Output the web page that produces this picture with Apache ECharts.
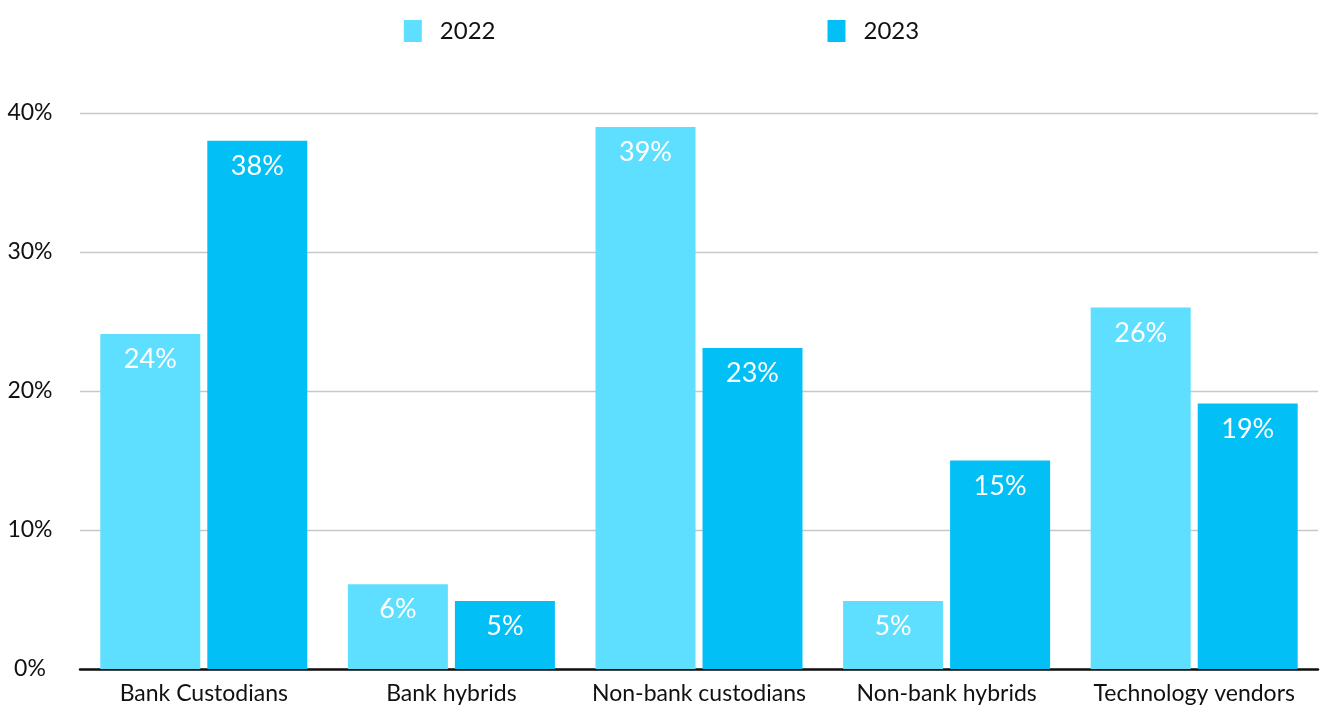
<!DOCTYPE html>
<html>
<head>
<meta charset="utf-8">
<script src="https://cdn.jsdelivr.net/npm/echarts@6/dist/echarts.min.js"></script>
<style>html,body{margin:0;padding:0;background:#fff}#c{width:1323px;height:707px}</style>
</head>
<body>
<div id="c"></div>
<script>
const categories = ['Bank Custodians', 'Bank hybrids', 'Non-bank custodians', 'Non-bank hybrids', 'Technology vendors'];
const series2022 = [24.1, 6.1, 39, 4.9, 26];
const series2023 = [38, 4.9, 23.1, 15, 19.1];
const seriesNames = ['2022', '2023'];
const yTicks = [0, 10, 20, 30, 40];

const font = 'Lato, "Open Sans", sans-serif';
const chart = echarts.init(document.getElementById('c'));
const label = {
  show: true, position: 'insideTop', distance: 12, color: '#fff',
  fontSize: 27, fontFamily: font,
  formatter: p => Math.round(p.value) + '%'
};
chart.setOption({
  animation: false,
  legend: {
    top: 14, left: 'center', itemWidth: 18, itemHeight: 22, itemGap: 332,
    icon: 'rect',
    textStyle: { fontSize: 24, fontFamily: font, color: '#111', padding: [0, 0, 0, 13] },
    data: seriesNames
  },
  grid: { left: 80, right: 5, top: 113, bottom: 38 },
  xAxis: {
    type: 'category', data: categories,
    axisLine: { lineStyle: { color: '#111', width: 2.5 } },
    axisTick: { show: false },
    axisLabel: { fontSize: 23, fontFamily: font, color: '#111', margin: 13, interval: 0, hideOverlap: false }
  },
  yAxis: {
    type: 'value', min: yTicks[0], max: yTicks[yTicks.length - 1], interval: 10,
    axisLine: { show: false }, axisTick: { show: false },
    axisLabel: { fontSize: 23, fontFamily: font, color: '#111', align: 'center', margin: 50, formatter: v => v + '%' },
    splitLine: { lineStyle: { color: '#c8c8c8', width: 1.3 } }
  },
  series: [
    { name: seriesNames[0], type: 'bar', data: series2022, barWidth: 100, barGap: '7%', itemStyle: { color: '#5EDFFF' }, label },
    { name: seriesNames[1], type: 'bar', data: series2023, barWidth: 100, barGap: '7%', itemStyle: { color: '#02C0F5' }, label }
  ]
});
</script>
</body>
</html>
